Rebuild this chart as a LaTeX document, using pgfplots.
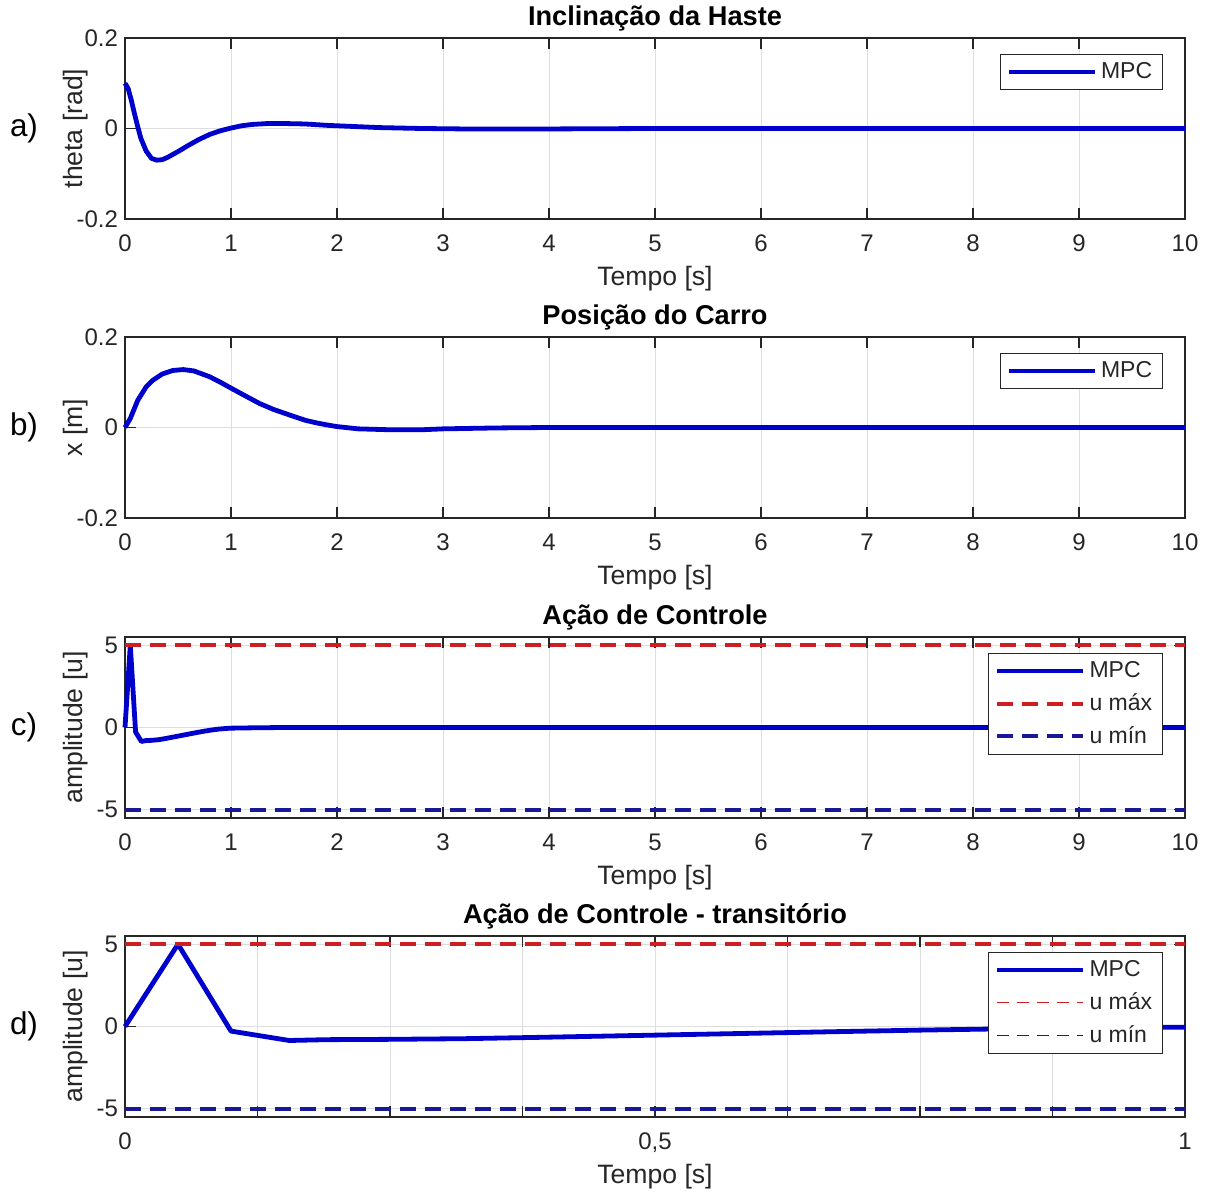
\documentclass[border=0pt]{standalone}
\usepackage{pgfplots}
\pgfplotsset{compat=1.18}
\usepackage{fontspec}
\setmainfont{Liberation Sans}
\definecolor{mpcblue}{RGB}{0,0,205}
\definecolor{umaxred}{RGB}{205,30,35}
\definecolor{uminblue}{RGB}{25,25,150}
\definecolor{axgray}{RGB}{38,38,38}
\definecolor{txtgray}{RGB}{38,38,38}
\definecolor{gridgray}{RGB}{222,222,222}
\newcommand{\ticksize}{\fontsize{12pt}{14pt}\selectfont}
\newcommand{\labsize}{\fontsize{13.3pt}{15pt}\selectfont}
\newcommand{\titsize}{\fontsize{13.6pt}{15pt}\selectfont\bfseries}
\newcommand{\legsize}{\fontsize{11.5pt}{13pt}\selectfont}
\newcommand{\pansize}{\fontsize{15.7pt}{18pt}\selectfont}
\pgfplotsset{
  mystyle/.style={
    scale only axis, width=530pt, height=90.5pt,
    xmin=0, xmax=10, xtick={0,1,...,10},
    xticklabels={0,1,2,3,4,5,6,7,8,9,10},
    grid=major, major grid style={line width=0.5pt, color=gridgray},
    tick align=inside, major tick length=5.3pt,
    axis line style={line width=0.6pt, color=axgray},
    every tick/.style={line width=0.6pt, color=axgray},
    tick label style={font=\ticksize, text=txtgray},
    xticklabel style={yshift=-4.5pt},
    xlabel={Tempo [s]},
    xlabel style={at={(axis description cs:0.5,-0.33)}, anchor=center, font=\labsize, text=txtgray},
    ylabel style={at={(axis description cs:-0.0462,0.5)}, anchor=center, font=\labsize, text=txtgray},
    every axis title shift=0pt,
    title style={at={(axis description cs:0.5,1.1105)}, anchor=center, font=\titsize, text=black},
    legend style={at={(axis description cs:0.979,0.912)}, anchor=north east, draw=axgray, line width=0.6pt,
      font=\legsize, text=txtgray, fill=white, inner xsep=3pt, inner ysep=2pt, row sep=2.5pt,
      cells={anchor=west}},
    legend image code/.code={\draw[##1] (0pt,0pt) -- (43pt,0pt);},
    clip=false,
  },
  mpc/.style={color=mpcblue, line width=2.4pt, line join=round},
  umax/.style={color=umaxred, line width=2pt, dash pattern=on 8pt off 4.5pt},
  umin/.style={color=uminblue, line width=2pt, dash pattern=on 8pt off 4.5pt},
}
\begin{document}
\begin{tikzpicture}
\useasboundingbox (0,0) rectangle (605.5pt,595.5pt);
% a)
\begin{axis}[mystyle, at={(62.5pt,486pt)}, anchor=south west,
  ymin=-0.2, ymax=0.2, ytick={-0.2,0,0.2}, yticklabels={-0.2,0,0.2},
  ylabel={theta [rad]}, title={Inclinação da Haste}]
\addplot[mpc] coordinates {(0,0.1) (0.03,0.088) (0.06,0.062) (0.09,0.032) (0.12,0.004) (0.15,-0.022) (0.2,-0.05) (0.25,-0.066) (0.3,-0.07) (0.35,-0.069) (0.4,-0.064) (0.5,-0.051) (0.6,-0.037) (0.7,-0.024) (0.8,-0.013) (0.9,-0.005) (1.0,0.001) (1.1,0.006) (1.2,0.009) (1.35,0.011) (1.5,0.011) (1.7,0.01) (1.9,0.007) (2.1,0.005) (2.4,0.002) (2.8,0) (3.2,-0.001) (4,-0.001) (5,0) (10,0)};
\addlegendentry{MPC}
\node[font=\pansize, text=black] at (axis description cs:-0.0953,0.5) {a)};
\end{axis}
% b)
\begin{axis}[mystyle, at={(62.5pt,336.5pt)}, anchor=south west,
  ymin=-0.2, ymax=0.2, ytick={-0.2,0,0.2}, yticklabels={-0.2,0,0.2},
  ylabel={x [m]}, title={Posição do Carro}]
\addplot[mpc] coordinates {(0,0) (0.05,0.02) (0.12,0.06) (0.2,0.09) (0.26,0.104) (0.35,0.118) (0.45,0.126) (0.55,0.128) (0.65,0.125) (0.8,0.112) (0.9,0.1) (1.0,0.087) (1.15,0.068) (1.27,0.053) (1.4,0.04) (1.56,0.027) (1.7,0.016) (1.81,0.01) (1.9,0.006) (2.0,0.002) (2.2,-0.003) (2.5,-0.005) (2.8,-0.005) (3.0,-0.003) (3.5,-0.001) (4,0) (10,0)};
\addlegendentry{MPC}
\node[font=\pansize, text=black] at (axis description cs:-0.0953,0.5) {b)};
\end{axis}
% c)
\begin{axis}[mystyle, at={(62.5pt,186.5pt)}, anchor=south west,
  ymin=-5.5, ymax=5.5, ytick={-5,0,5}, yticklabels={-5,0,5},
  ylabel={amplitude [u]}, title={Ação de Controle}]
\addplot[mpc] coordinates {(0,0) (0.05,5) (0.1,-0.28) (0.155,-0.85) (0.19,-0.8) (0.25,-0.78) (0.32,-0.74) (0.39,-0.66) (0.455,-0.58) (0.52,-0.5) (0.585,-0.42) (0.665,-0.32) (0.75,-0.22) (0.82,-0.15) (0.88,-0.1) (0.95,-0.06) (1.0,-0.04) (1.2,-0.02) (1.5,0) (10,0)};
\addlegendentry{MPC}
\addplot[umax] coordinates {(0,5) (10,5)};
\addlegendentry{u máx}
\addplot[umin] coordinates {(0,-5) (10,-5)};
\addlegendentry{u mín}
\node[font=\pansize, text=black] at (axis description cs:-0.0953,0.5) {c)};
\end{axis}
% d)
\begin{axis}[mystyle, at={(62.5pt,37pt)}, anchor=south west, xmin=0, xmax=1,
  xtick={0,0.125,0.25,0.375,0.5,0.625,0.75,0.875,1},
  xticklabels={0,,,,{0,5},,,,1},
  ymin=-5.5, ymax=5.5, ytick={-5,0,5}, yticklabels={-5,0,5},
  ylabel={amplitude [u]}, title={Ação de Controle - transitório}]
\addplot[mpc] coordinates {(0,0) (0.05,5) (0.1,-0.28) (0.155,-0.85) (0.19,-0.8) (0.25,-0.78) (0.32,-0.74) (0.39,-0.66) (0.455,-0.58) (0.52,-0.5) (0.585,-0.42) (0.665,-0.32) (0.75,-0.22) (0.82,-0.15) (0.88,-0.1) (0.95,-0.06) (1.0,-0.04)};
\addlegendentry{MPC}
\addplot[umax, forget plot] coordinates {(0,5) (1,5)};
\addplot[umin, forget plot] coordinates {(0,-5) (1,-5)};
\addlegendimage{draw=umaxred, line width=0.9pt, dash pattern=on 6pt off 4pt}
\addlegendentry{u máx}
\addlegendimage{draw=uminblue, line width=0.9pt, dash pattern=on 6pt off 4pt}
\addlegendentry{u mín}
\node[font=\pansize, text=black] at (axis description cs:-0.0953,0.5) {d)};
\end{axis}
\end{tikzpicture}
\end{document}
